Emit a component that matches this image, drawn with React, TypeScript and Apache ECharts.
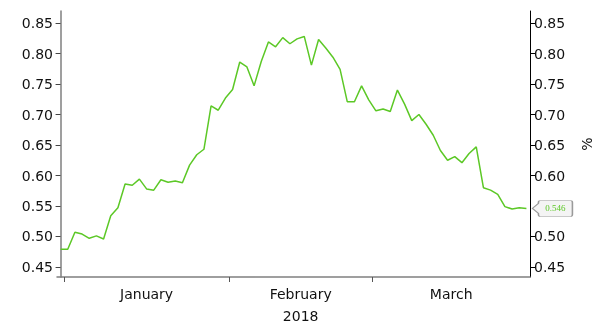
import { useEffect, useRef } from "react";
import * as echarts from "echarts";

// Trading days: last session of 2017, then weekdays of Q1 2018
const firstDay = "2017-12-29";
const lastDay = "2018-03-30";

const values: number[] = [
  0.479, 0.479, 0.507, 0.504, 0.497, 0.501, 0.496, 0.534, 0.547, 0.586,
  0.584, 0.594, 0.578, 0.576, 0.593, 0.589, 0.591, 0.588, 0.617, 0.634,
  0.643, 0.714, 0.707, 0.727, 0.741, 0.786, 0.778, 0.747, 0.787, 0.819,
  0.811, 0.826, 0.816, 0.824, 0.828, 0.781, 0.823, 0.809, 0.794, 0.774,
  0.721, 0.721, 0.747, 0.724, 0.706, 0.709, 0.705, 0.74, 0.717, 0.69,
  0.7, 0.684, 0.666, 0.641, 0.625, 0.631, 0.621, 0.636, 0.647, 0.58,
  0.576, 0.569, 0.549, 0.545, 0.547, 0.546,
];

const monthNames = ["January", "February", "March"];
const yearLabel = "2018";
const yTicks = [0.45, 0.5, 0.55, 0.6, 0.65, 0.7, 0.75, 0.8, 0.85];
const yMin = 0.4336;
const yMax = 0.8697;
const lastValueLabel = "0.546";

const GREEN = "#5cc826";

function weekdays(from: string, to: string): string[] {
  const out: string[] = [];
  const d = new Date(from + "T00:00:00Z");
  const end = new Date(to + "T00:00:00Z");
  while (d <= end) {
    const wd = d.getUTCDay();
    if (wd !== 0 && wd !== 6) out.push(d.toISOString().slice(0, 10));
    d.setUTCDate(d.getUTCDate() + 1);
  }
  return out;
}

const dates = weekdays(firstDay, lastDay);

export default function App() {
  const ref = useRef<HTMLDivElement>(null);

  useEffect(() => {
    if (!ref.current) return;
    const chart = echarts.init(ref.current, undefined, { renderer: "svg" });

    const xMin = -0.5;
    const xMax = dates.length - 0.5;

    // month boundaries sit between the last day of one month and the first of the next
    const boundaries: number[] = [];
    const starts: { idx: number; month: number; year: number }[] = [];
    dates.forEach((d, i) => {
      const y = Number(d.slice(0, 4));
      const m = Number(d.slice(5, 7)) - 1;
      if (i === 0 || d.slice(0, 7) !== dates[i - 1].slice(0, 7)) {
        if (i > 0) boundaries.push(i - 0.5);
        starts.push({ idx: i, month: m, year: y });
      }
    });
    const axisMid = (xMin + xMax) / 2;
    const segments = starts
      .map((s, k) => {
        const a = s.idx - 0.5;
        const b = k + 1 < starts.length ? starts[k + 1].idx - 0.5 : xMax;
        return { a, b, mid: (a + b) / 2, month: s.month, year: s.year };
      })
      .filter((s) => String(s.year) === yearLabel);
    const labelPos = segments.map((s) => s.mid);

    // the last-value tag sits on the right axis and hides the tick label under it
    const lastVal = Number(lastValueLabel);
    const rightLabels = yTicks.filter((t) => Math.abs(t - lastVal) > 0.02);

    const fontFamily = "DejaVu Sans";

    chart.setOption({
      animation: false,
      grid: { left: 57, right: 70, top: 11, bottom: 52 },
      xAxis: {
        type: "value",
        min: xMin,
        max: xMax,
        splitLine: { show: false },
        axisLine: { show: true, lineStyle: { color: "#7f7f7f", width: 1.5 } },
        axisTick: {
          show: true,
          customValues: boundaries,
          length: 5,
          lineStyle: { color: "#555", width: 1 },
        },
        axisLabel: {
          customValues: labelPos,
          margin: 6,
          color: "#111",
          fontFamily,
          fontSize: 14,
          lineHeight: 22,
          formatter: (v: number) => {
            const seg = segments.find((s) => Math.abs(s.mid - v) < 1e-6);
            if (!seg) return "";
            const name = monthNames[seg.month];
            return seg.a <= axisMid && axisMid <= seg.b ? name + "\n" + yearLabel : name;
          },
        },
      },
      yAxis: [
        {
          type: "value",
          position: "left",
          min: yMin,
          max: yMax,
          splitLine: { show: false },
          axisLine: { show: true, lineStyle: { color: "#7f7f7f", width: 1.5 } },
          axisTick: { show: true, customValues: yTicks, length: 5, lineStyle: { color: "#444" } },
          axisLabel: {
            customValues: yTicks,
            margin: 4,
            color: "#111",
            fontFamily,
            fontSize: 14,
            formatter: (v: number) => v.toFixed(2),
          },
        },
        {
          type: "value",
          position: "right",
          min: yMin,
          max: yMax,
          name: "%",
          nameLocation: "middle",
          nameRotate: 90,
          nameGap: 50,
          nameTextStyle: { color: "#111", fontFamily, fontSize: 14 },
          splitLine: { show: false },
          axisLine: { show: true, lineStyle: { color: "#000", width: 1 } },
          axisTick: { show: true, customValues: rightLabels, length: 5, lineStyle: { color: "#000" } },
          axisLabel: {
            customValues: rightLabels,
            margin: 4,
            color: "#111",
            fontFamily,
            fontSize: 14,
            formatter: (v: number) => v.toFixed(2),
          },
        },
      ],
      series: [
        {
          type: "line",
          data: values.map((v, i) => [i, v]),
          showSymbol: false,
          symbol: "none",
          lineStyle: { color: GREEN, width: 1.5 },
          itemStyle: { color: GREEN },
          markPoint: {
            symbol:
              "path://M0 8 L6 3 L6 2 Q6 0 8 0 L38 0 Q40 0 40 2 L40 14 Q40 16 38 16 L8 16 Q6 16 6 14 L6 13 Z",
            symbolSize: [40, 16],
            symbolOffset: [26, 0],
            itemStyle: { color: "#f4f4f4", borderColor: "#9a9a9a", borderWidth: 1 },
            label: {
              show: true,
              position: "inside",
              offset: [3, 0],
              formatter: lastValueLabel,
              color: GREEN,
              fontFamily: "Liberation Serif",
              fontSize: 9,
            },
            data: [{ coord: [values.length - 1, lastVal] }],
          },
        },
      ],
    });

    return () => chart.dispose();
  }, []);

  return (
    <div
      ref={ref}
      style={{ position: "fixed", left: 0, top: 0, width: 602, height: 329 }}
    />
  );
}
